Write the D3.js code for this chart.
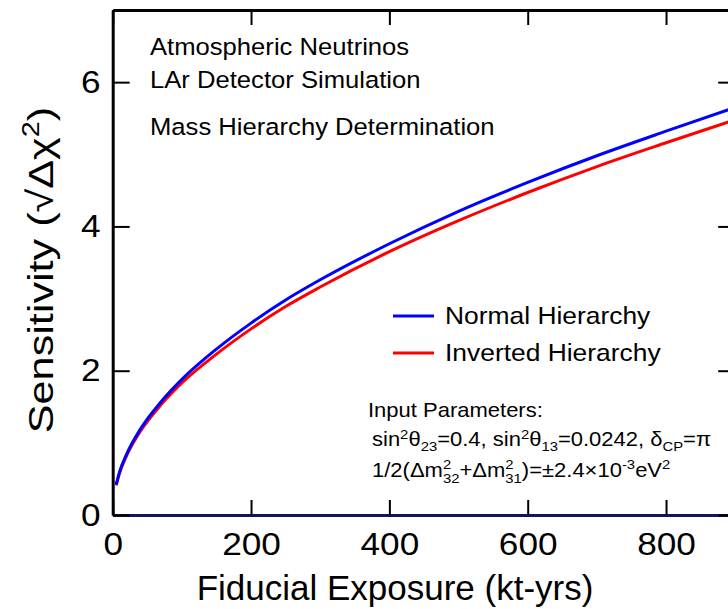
<!DOCTYPE html>
<html>
<head>
<meta charset="utf-8">
<script src="https://cdn.jsdelivr.net/npm/d3@7"></script>
<style>
  body { margin: 0; background: #fff; }
  text { font-family: "Liberation Sans", Arial, sans-serif; fill: #000; }
</style>
</head>
<body>
<svg id="chart" width="728" height="609"></svg>
<script>
// exposure in kt-yrs
var exposure = [5, 10, 20, 40, 70, 100, 150, 200, 250, 300, 400, 500, 600, 700, 800, 900];
var normalHierarchy = [0.42, 0.60, 0.84, 1.19, 1.57, 1.88, 2.30, 2.66, 2.98, 3.26, 3.76, 4.21, 4.61, 4.98, 5.32, 5.65];
var invertedHierarchy = [0.41, 0.58, 0.82, 1.16, 1.53, 1.83, 2.23, 2.58, 2.89, 3.16, 3.65, 4.08, 4.47, 4.83, 5.16, 5.48];

var seriesNames = ["Normal Hierarchy", "Inverted Hierarchy"];
var seriesColors = ["#0000ff", "#ff0000"];

var xTicks = [0, 200, 400, 600, 800];
var yTicks = [0, 2, 4, 6];

var notes = ["Atmospheric Neutrinos", "LAr Detector Simulation", "Mass Hierarchy Determination"];

var svg = d3.select("#chart");
var SX = 1.1; // text in the figure is a bit wider than plain Arial

var plotLeft = 112.7, plotRight = 735.2, plotTop = 10, plotBottom = 515;

var x = d3.scaleLinear().domain([0, 900]).range([plotLeft, plotRight]);
var y = d3.scaleLinear().domain([0, 7]).range([plotBottom, plotTop]);

// helper for a text label with the horizontal stretch
function label(parent, px, py, size) {
    return parent.append("text")
        .attr("transform", "translate(" + px + "," + py + ") scale(" + SX + ",1)")
        .style("font-size", size + "px");
}

// curves
var series = [normalHierarchy, invertedHierarchy];
var line = d3.line()
    .x(function(d, i) { return x(exposure[i]); })
    .y(function(d) { return y(d); })
    .curve(d3.curveMonotoneX);

// draw red first so blue sits on top, as in the figure
[1, 0].forEach(function(k) {
    svg.append("path")
        .datum(series[k])
        .attr("fill", "none")
        .attr("stroke", seriesColors[k])
        .attr("stroke-width", 3)
        .attr("d", line);
});

// axes, ticks pointing inward
function styleAxis(g, color) {
    g.select(".domain").attr("stroke", color || "#000").attr("stroke-width", 3);
    g.selectAll(".tick line").attr("stroke", "#000").attr("stroke-width", 2);
}

var gx = svg.append("g")
    .attr("transform", "translate(0," + plotBottom + ")")
    .call(d3.axisBottom(x).tickValues(xTicks).tickFormat(d3.format("d"))
        .tickSizeInner(-15).tickSizeOuter(0).tickPadding(17));
styleAxis(gx, "#15155a");
gx.selectAll("text")
    .attr("fill", "#000")
    .style("font-size", "32px")
    .style("font-family", "Liberation Sans, Arial, sans-serif")
    .attr("transform", "scale(" + SX + ",1)");

var gy = svg.append("g")
    .attr("transform", "translate(" + plotLeft + ",0)")
    .call(d3.axisLeft(y).tickValues(yTicks).tickFormat(d3.format("d"))
        .tickSizeInner(-17).tickSizeOuter(0).tickPadding(11));
styleAxis(gy);
gy.selectAll("text")
    .attr("fill", "#000")
    .style("font-size", "32px")
    .style("font-family", "Liberation Sans, Arial, sans-serif")
    .attr("transform", "scale(" + SX + ",1)");

var gxTop = svg.append("g")
    .attr("transform", "translate(0," + plotTop + ")")
    .call(d3.axisTop(x).tickValues(xTicks).tickSizeInner(-15).tickSizeOuter(0).tickFormat(""));
styleAxis(gxTop);

var gyRight = svg.append("g")
    .attr("transform", "translate(" + plotRight + ",0)")
    .call(d3.axisRight(y).tickValues(yTicks).tickSizeInner(-17).tickSizeOuter(0).tickFormat(""));
styleAxis(gyRight);

// axis titles
svg.append("text")
    .attr("transform", "translate(395,600)")
    .attr("text-anchor", "middle")
    .style("font-size", "35px")
    .text("Fiducial Exposure (kt-yrs)");

var yTitle = svg.append("text")
    .attr("transform", "translate(53,270) rotate(-90) scale(1.2,1)")
    .attr("text-anchor", "middle")
    .style("font-size", "36px");
yTitle.append("tspan").text("Sensitivity (\u221A\u0394\u03C7");
yTitle.append("tspan").attr("dy", -14).style("font-size", "24px").text("2");
yTitle.append("tspan").attr("dy", 14).text(")");

// notes in the upper left
var noteY = [55, 88, 135];
notes.forEach(function(t, i) {
    label(svg, 150, noteY[i], 23.3).text(t);
});

// legend
var legY = [316, 353];
seriesNames.forEach(function(name, i) {
    svg.append("line")
        .attr("x1", 393).attr("x2", 434)
        .attr("y1", legY[i]).attr("y2", legY[i])
        .attr("stroke", seriesColors[i])
        .attr("stroke-width", 3);
    label(svg, 445, legY[i] + 8, 24).text(name);
});

// input parameters
var fs = 20, sub = 13.5;
label(svg, 368, 417, fs).text("Input Parameters:");

var p2 = label(svg, 372, 446, fs);
p2.append("tspan").text("sin");
p2.append("tspan").attr("dy", -7).style("font-size", sub + "px").text("2");
p2.append("tspan").attr("dy", 7).text("\u03B8");
p2.append("tspan").attr("dy", 5).style("font-size", sub + "px").text("23");
p2.append("tspan").attr("dy", -5).text("=0.4, sin");
p2.append("tspan").attr("dy", -7).style("font-size", sub + "px").text("2");
p2.append("tspan").attr("dy", 7).text("\u03B8");
p2.append("tspan").attr("dy", 5).style("font-size", sub + "px").text("13");
p2.append("tspan").attr("dy", -5).text("=0.0242, \u03B4");
p2.append("tspan").attr("dy", 5).style("font-size", sub + "px").text("CP");
p2.append("tspan").attr("dy", -5).text("=\u03C0");

var p3 = label(svg, 372, 477, fs);
p3.append("tspan").text("1/2(\u0394m");
p3.append("tspan").attr("dy", -8).style("font-size", sub + "px").text("2");
p3.append("tspan").attr("dx", -7.5).attr("dy", 14).style("font-size", sub + "px").text("32");
p3.append("tspan").attr("dy", -6).text("+\u0394m");
p3.append("tspan").attr("dy", -8).style("font-size", sub + "px").text("2");
p3.append("tspan").attr("dx", -7.5).attr("dy", 14).style("font-size", sub + "px").text("31");
p3.append("tspan").attr("dy", -6).text(")=\u00B12.4\u00D710");
p3.append("tspan").attr("dy", -8).style("font-size", sub + "px").text("-3");
p3.append("tspan").attr("dy", 8).text("eV");
p3.append("tspan").attr("dy", -8).style("font-size", sub + "px").text("2");
</script>
</body>
</html>
